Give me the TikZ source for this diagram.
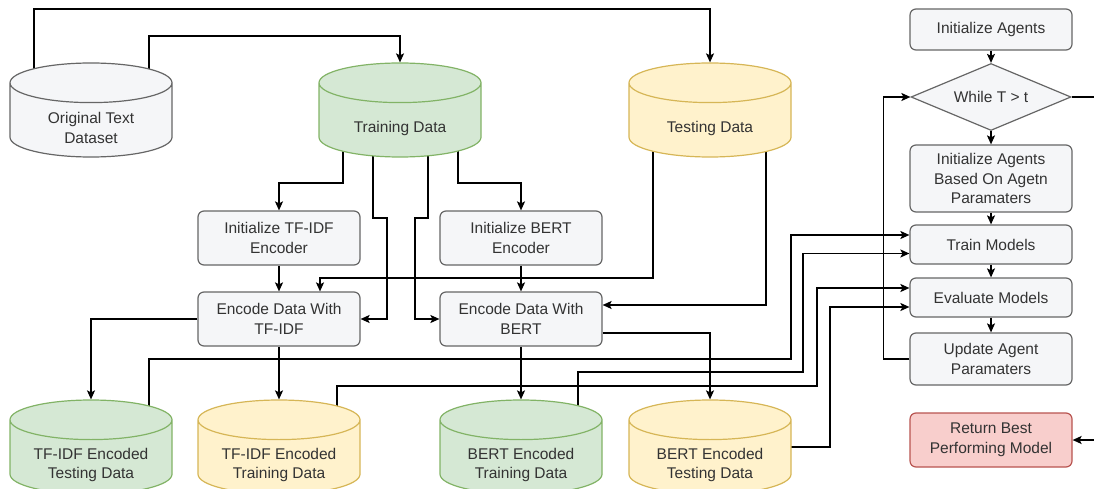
\documentclass[tikz,border=0pt]{standalone}
\usepackage{fontspec}
\setmainfont{Liberation Sans}
\usetikzlibrary{arrows.meta,shapes.geometric,backgrounds}
\definecolor{txt}{HTML}{333333}
\definecolor{edge}{HTML}{666666}
\definecolor{boxfill}{HTML}{F5F6F8}
\definecolor{greenfill}{HTML}{D5E8D4}
\definecolor{greenedge}{HTML}{82B366}
\definecolor{yellowfill}{HTML}{FFF2CC}
\definecolor{yellowedge}{HTML}{D6B656}
\definecolor{redfill}{HTML}{F8CECC}
\definecolor{rededge}{HTML}{B85450}
\tikzset{
  base/.style={align=center, font=\fontsize{15.5}{19.5}\selectfont, text=txt},
  stepbox/.style={base, rectangle, rounded corners=6pt, draw=edge, fill=boxfill, line width=1.2pt, minimum width=162pt, inner sep=1pt},
  stext/.style={base, yshift=-8pt},
  store/.style={cylinder, shape border rotate=90, aspect=0.33, text width=120pt, anchor=shape center, draw=edge, fill=boxfill, line width=1.2pt, minimum width=162pt, minimum height=94pt, inner sep=0pt, label={[stext]center:#1}},
  greenstore/.style={store={#1}, draw=greenedge, fill=greenfill},
  yellowstore/.style={store={#1}, draw=yellowedge, fill=yellowfill},
  decision/.style={base, diamond, aspect=2.4, draw=edge, fill=boxfill, line width=1.2pt, minimum width=160pt, minimum height=67pt, inner sep=0pt},
  line/.style={-{Stealth[length=9pt,width=8pt,inset=2pt]}, line width=1.4pt, draw=black},
  wire/.style={line width=1.4pt, draw=black}
}
\begin{document}
\begin{tikzpicture}[x=1pt, y=-1pt]
  \useasboundingbox (0,0) rectangle (1094,489);

  % Top Row: Datasets
  \node[store={Original Text\\Dataset}] (orig) at (91,110) {};
  \node[greenstore={Training Data}] (train) at (400,110) {};
  \node[yellowstore={Testing Data}] (test) at (710,110) {};

  % Middle: Encoders
  \node[stepbox, minimum height=54pt] (inittf) at (279,238) {Initialize TF-IDF\\Encoder};
  \node[stepbox, minimum height=54pt] (initbert) at (521,238) {Initialize BERT\\Encoder};
  \node[stepbox, minimum height=54pt] (enctf) at (279,319) {Encode Data With\\TF-IDF};
  \node[stepbox, minimum height=54pt] (encbert) at (521,319) {Encode Data With\\BERT};

  % Bottom Row: Encoded data
  \node[greenstore={TF-IDF Encoded\\Testing Data}] (tftest) at (91,447) {};
  \node[yellowstore={TF-IDF Encoded\\Training Data}] (tftrain) at (279,447) {};
  \node[greenstore={BERT Encoded\\Training Data}] (berttrain) at (521,447) {};
  \node[yellowstore={BERT Encoded\\Testing Data}] (berttest) at (710,447) {};

  % Right Column: Agent loop
  \node[stepbox, minimum height=41pt] (initag) at (991,29.5) {Initialize Agents};
  \node[decision] (loop) at (991,97) {While T > t};
  \node[stepbox, minimum height=67pt] (initbased) at (991,178.5) {Initialize Agents\\Based On Agetn\\Paramaters};
  \node[stepbox, minimum height=39pt] (trainm) at (991,244.5) {Train Models};
  \node[stepbox, minimum height=39pt] (evalm) at (991,297.5) {Evaluate Models};
  \node[stepbox, minimum height=52pt] (update) at (991,359) {Update Agent\\Paramaters};
  \node[stepbox, minimum height=54pt, draw=rededge, fill=redfill] (best) at (991,440) {Return Best\\Performing Model};

  \coordinate (loopout) at (1094,97);
  \coordinate (bestin) at (1094,440);

  % Edges
  \begin{scope}[on background layer]
    \draw[line] ([xshift=-57pt]orig.shape center) -- ++(0,-101) -| (test.top);
    \draw[line] ([xshift=58pt]orig.shape center) -- ++(0,-74) -| (train.top);

    \draw[line] ([xshift=-57pt]train.shape center) -- ++(0,73) -| (inittf.north);
    \draw[line] ([xshift=-27pt]train.shape center) |- ++(14,108) |- (enctf.east);
    \draw[line] ([xshift=28pt]train.shape center) |- ++(-13,108) |- (encbert.west);
    \draw[line] ([xshift=58pt]train.shape center) -- ++(0,73) -| (initbert.north);

    \draw[line] ([xshift=-57pt]test.shape center) -- ++(0,168) -| ([xshift=41pt]enctf.north);
    \draw[line] ([xshift=56pt]test.shape center) |- ([yshift=14pt]encbert.east);

    \draw[line] (inittf) -- (enctf);
    \draw[line] (initbert) -- (encbert);

    \draw[line] (enctf.west) -| (tftest.top);
    \draw[line] (enctf.south) -- (tftrain.top);
    \draw[line] (encbert.south) -- (berttrain.top);
    \draw[line] ([yshift=-14pt]encbert.east) -| (berttest.top);

    % Encoded data into the agent loop
    \draw[line] ([xshift=58pt]tftest.shape center) |- ++(642,-88) |- ([yshift=9.5pt]trainm.west);
    \draw[line] ([xshift=57pt]berttrain.shape center) |- ++(225,-75) |- ([yshift=-9pt]trainm.west);
    \draw[line] ([xshift=58pt]tftrain.shape center) |- ++(480,-61) |- ([yshift=9.5pt]evalm.west);
    \draw[line] (berttest.shape center) -- ++(120,0) |- ([yshift=-9.5pt]evalm.west);
  \end{scope}

  \draw[line] (initag) -- (loop);
  \draw[line] (loop) -- (initbased);
  \draw[line] (initbased) -- (trainm);
  \draw[line] (trainm) -- (evalm);
  \draw[line] (evalm) -- (update);
  \draw[line] (update.west) -- ++(-26,0) |- (loop.west);
  \draw[wire] (loop.east) -- (loopout);
  \draw[line] (bestin) -- (best.east);

\end{tikzpicture}
\end{document}
